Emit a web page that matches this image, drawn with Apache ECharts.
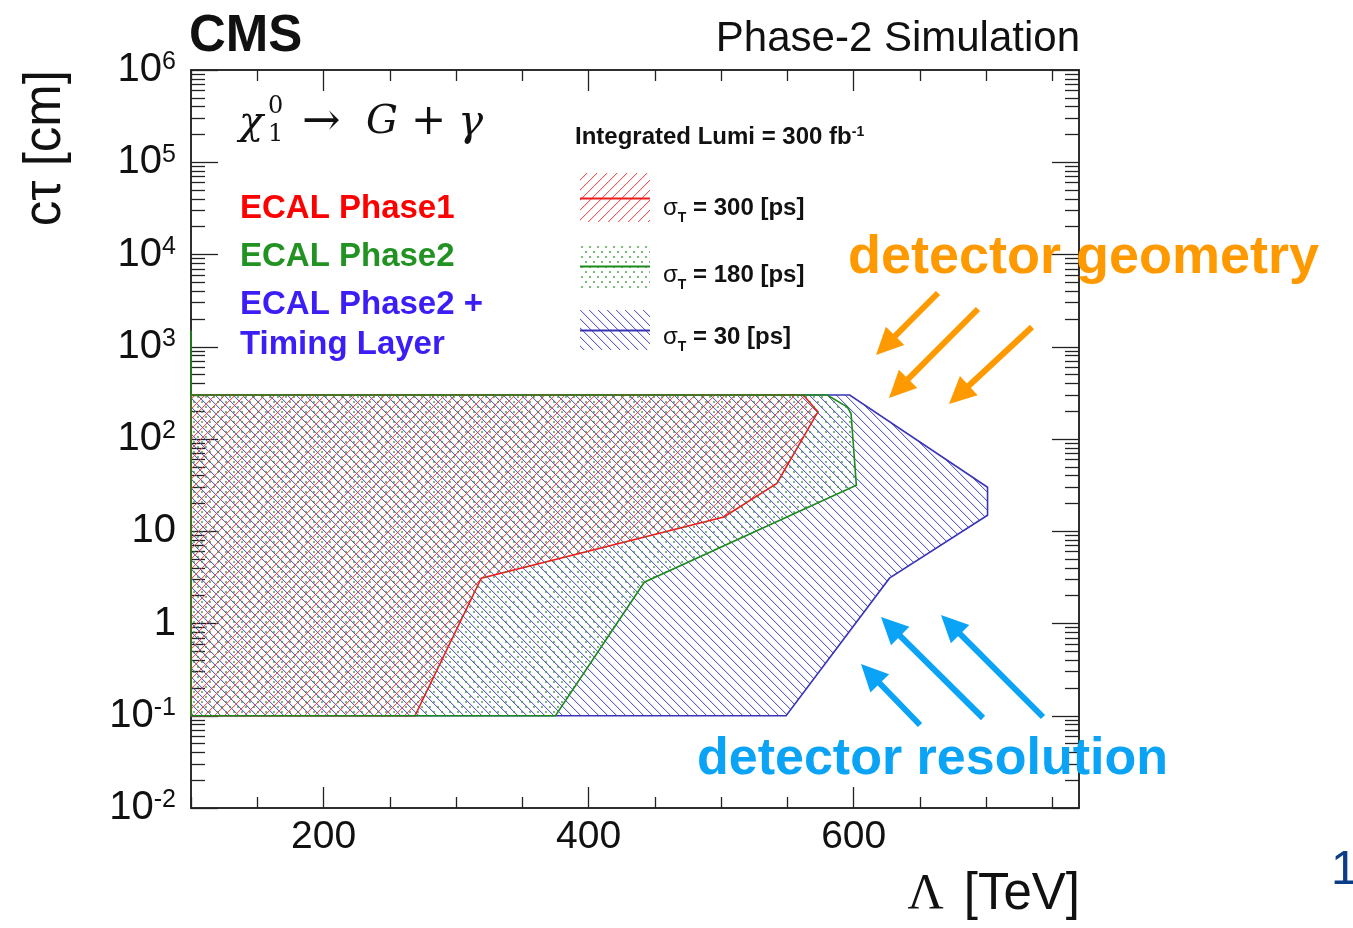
<!DOCTYPE html>
<html>
<head>
<meta charset="utf-8">
<script src="https://cdn.jsdelivr.net/npm/echarts@6/dist/echarts.min.js"></script>
<style>
html,body{margin:0;padding:0;background:#fff;}
#chart{width:1353px;height:928px;}
</style>
</head>
<body>
<div id="chart"></div>
<script>
// ---------------- data ----------------
const xMin = 100, xMax = 770;
const yMin = 0.01, yMax = 1e6;
const xMajorTicks = [200, 400, 600];
const xMinorTicks = [100, 150, 250, 300, 350, 450, 500, 550, 650, 700, 750];
const yMajorTicks = [0.01, 0.1, 1, 10, 100, 1000, 10000, 100000, 1000000];

// ECAL Phase1 (sigma_T = 300 ps)
const phase1Lambda = [100, 269, 319, 502, 542, 573, 562, 100];
const phase1CTau   = [0.1, 0.1, 3.1, 14.3, 33, 197, 300, 300];
// ECAL Phase2 (sigma_T = 180 ps)
const phase2Lambda = [100, 375, 442, 602, 598, 595, 580, 100, 100];
const phase2CTau   = [0.1, 0.1, 2.8, 31.6, 190, 223, 300, 300, 1500];
// ECAL Phase2 + Timing Layer (sigma_T = 30 ps)
const timingLambda = [100, 549, 627, 701, 701, 597, 100];
const timingCTau   = [0.1, 0.1, 3.1, 14.9, 30, 300, 300];

// minor log ticks (2..9 x 10^k)
const yMinorTicks = [];
for (let e = -2; e < 6; e++) {
  for (let m = 2; m <= 9; m++) yMinorTicks.push(+(m * Math.pow(10, e)).toPrecision(6));
}

// ---------------- patterns (crisp pixel hatching) ----------------
function hatch(rgb, size, dir, a1, a2) {
  const c = document.createElement('canvas');
  c.width = c.height = size;
  const g = c.getContext('2d');
  for (let i = 0; i < size; i++) {
    const y = dir === '/' ? size - 1 - i : i;
    g.fillStyle = 'rgba(' + rgb + ',' + a1 + ')';
    g.fillRect(i, y, 1, 1);
    g.fillStyle = 'rgba(' + rgb + ',' + a2 + ')';
    g.fillRect((i + 1) % size, y, 1, 1);
  }
  return { image: c, repeat: 'repeat' };
}
function dots(rgb, w, h) {
  const c = document.createElement('canvas');
  c.width = w; c.height = h;
  const g = c.getContext('2d');
  g.fillStyle = 'rgba(' + rgb + ',0.5)';
  [[1, 1], [1 + w / 2, 1 + h / 2]].forEach(p => g.fillRect(p[0], p[1], 2, 2));
  g.fillStyle = 'rgba(' + rgb + ',0.85)';
  [[1, 1], [1 + w / 2, 1 + h / 2]].forEach(p => g.fillRect(p[0] + 0.5, p[1] + 0.5, 1, 1));
  return { image: c, repeat: 'repeat' };
}
const redFill = hatch('240,60,60', 10, '/', 0.85, 0.18);
const blueFill = hatch('70,70,190', 9, '\\', 0.85, 0.18);
const greenFill = dots('40,145,40', 8, 10);
const redStroke = '#ee1c1c', greenStroke = '#1d8a1d', blueStroke = '#3a34b8';

// ---------------- helpers ----------------
const SANS = '"Liberation Sans", Arial, Helvetica, sans-serif';
const SERIF = '"Liberation Serif", "DejaVu Serif", serif';
const MATH = '"DejaVu Serif", serif';
const axisColor = '#222';

function regionSeries(name, xs, ys, fill, stroke, z) {
  return {
    type: 'custom', name, coordinateSystem: 'cartesian2d',
    xAxisIndex: 0, yAxisIndex: 0, z, silent: true,
    data: xs.map((x, i) => [x, ys[i]]),
    renderItem: function (params, api) {
      if (params.dataIndex !== 0) return null;
      const pts = xs.map((x, i) => api.coord([x, ys[i]]));
      return { type: 'polygon', shape: { points: pts }, style: { fill: fill, stroke: stroke, lineWidth: 1.6 } };
    }
  };
}

function xAx(pos, major, labels) {
  return {
    type: 'value', min: xMin, max: xMax, position: pos,
    axisLine: { show: true, lineStyle: { color: axisColor, width: 1.5 } },
    axisTick: { show: true, inside: true, length: major ? 21 : 11, customValues: major ? xMajorTicks : xMinorTicks, lineStyle: { color: axisColor, width: 1.3 } },
    axisLabel: labels ? { show: true, customValues: xMajorTicks, fontSize: 39, fontFamily: SANS, color: '#111', margin: 10 } : { show: false },
    splitLine: { show: false }
  };
}
function yAx(pos, major, labels) {
  return {
    type: 'log', logBase: 10, min: yMin, max: yMax, position: pos,
    axisLine: { show: true, lineStyle: { color: axisColor, width: 1.5 } },
    axisTick: { show: true, inside: true, length: major ? 27 : 14, customValues: major ? yMajorTicks : yMinorTicks, lineStyle: { color: axisColor, width: 1.3 } },
    axisLabel: labels ? {
      show: true, customValues: yMajorTicks, margin: 15,
      formatter: function (v) {
        const e = Math.round(Math.log10(v));
        if (e === 0) return '{b|1}';
        if (e === 1) return '{b|10}';
        return '{b|10}{s|' + e + '}';
      },
      rich: {
        b: { fontSize: 40, fontFamily: SANS, color: '#111', lineHeight: 40, verticalAlign: 'bottom' },
        s: { fontSize: 25, fontFamily: SANS, color: '#111', lineHeight: 25, padding: [0, 0, 26, 0], verticalAlign: 'top' }
      }
    } : { show: false },
    splitLine: { show: false }
  };
}

function arrow(tail, tip, color) {
  const dx = tip[0] - tail[0], dy = tip[1] - tail[1];
  const len = Math.hypot(dx, dy);
  const ux = dx / len, uy = dy / len, nx = -uy, ny = ux;
  const L = 27, W = 13;
  const bx = tip[0] - ux * L, by = tip[1] - uy * L;
  return [
    { type: 'line', shape: { x1: tail[0], y1: tail[1], x2: bx + ux * 3, y2: by + uy * 3 }, style: { stroke: color, lineWidth: 6 } },
    { type: 'polygon', shape: { points: [tip, [bx + nx * W, by + ny * W], [bx - nx * W, by - ny * W]] }, style: { fill: color } }
  ];
}
function txt(x, y, text, font, fill, align, extra) {
  return Object.assign({ type: 'text', x: x, y: y, z: 10, style: { text: text, font: font, fill: fill, align: align || 'left', verticalAlign: 'middle' } }, extra || {});
}

const orange = '#ff9900', skyBlue = '#0aa3f5';
const graphics = [];
// Title texts
graphics.push(txt(189, 37, 'CMS', 'bold 51px ' + SANS, '#111'));
graphics.push(txt(1080, 39, 'Phase-2 Simulation', '42px ' + SANS, '#111', 'right'));
// Axis titles
graphics.push(txt(46, 70, 'cτ [cm]', '51px ' + SANS, '#111', 'right', { rotation: Math.PI / 2 }));
graphics.push({
  type: 'text', x: 1080, y: 895, z: 10,
  style: { text: '{g|Λ}{a|[TeV]}', align: 'right', verticalAlign: 'middle',
    rich: { g: { font: '50px ' + SERIF, fill: '#111', padding: [0, 20, 0, 0] }, a: { font: '51px ' + SANS, fill: '#111' } } }
});
// process formula
graphics.push(txt(239, 124, 'χ', 'italic 40px ' + MATH, '#111'));
graphics.push(txt(268, 107, '0', '24px ' + MATH, '#111'));
graphics.push(txt(268, 135, '1', '24px ' + MATH, '#111'));
graphics.push(txt(302, 123, '→', '46px ' + MATH, '#111'));
graphics.push(txt(366, 123, 'G', 'italic 40px ' + MATH, '#111'));
graphics.push(txt(411, 123, '+', '42px ' + MATH, '#111'));
graphics.push(txt(458, 124, 'γ', 'italic 42px ' + MATH, '#111'));
// scenario labels
graphics.push(txt(240, 209, 'ECAL Phase1', 'bold 33px ' + SANS, '#ff0000'));
graphics.push(txt(240, 257, 'ECAL Phase2', 'bold 33px ' + SANS, '#229322'));
graphics.push(txt(240, 305, 'ECAL Phase2 +', 'bold 33px ' + SANS, '#3b1df5'));
graphics.push(txt(240, 345, 'Timing Layer', 'bold 33px ' + SANS, '#3b1df5'));
// lumi
graphics.push({
  type: 'text', x: 575, y: 137, z: 10,
  style: { text: '{a|Integrated Lumi = 300 fb}{s|-1}', verticalAlign: 'middle',
    rich: { a: { font: 'bold 24px ' + SANS, fill: '#111', lineHeight: 24, verticalAlign: 'bottom' },
            s: { font: 'bold 14px ' + SANS, fill: '#111', lineHeight: 14, padding: [0, 0, 12, 0], verticalAlign: 'top' } } }
});
// legend entries
const legendRows = [
  { y0: 173, h: 49, fill: redFill, stroke: redStroke, label: '300' },
  { y0: 243, h: 45, fill: greenFill, stroke: greenStroke, label: '180' },
  { y0: 310, h: 40, fill: blueFill, stroke: blueStroke, label: '30' }
];
const legendTextY = [208, 275, 337];
legendRows.forEach((r, i) => {
  graphics.push({ type: 'rect', z: 10, shape: { x: 580, y: r.y0, width: 70, height: r.h }, style: { fill: r.fill } });
  const ly = Math.round(r.y0 + r.h / 2) + 0.5;
  graphics.push({ type: 'line', z: 11, shape: { x1: 580, y1: ly, x2: 650, y2: ly }, style: { stroke: r.stroke, lineWidth: 1.8 } });
  graphics.push({
    type: 'text', x: 663, y: legendTextY[i], z: 10,
    style: { text: '{g|σ}{t|T}{a| = ' + r.label + ' [ps]}', verticalAlign: 'middle',
      rich: { g: { font: '24px ' + SANS, fill: '#111', lineHeight: 24, verticalAlign: 'top' },
              t: { font: 'bold 14px ' + SANS, fill: '#111', lineHeight: 14, padding: [15, 0, 0, 0], verticalAlign: 'top' },
              a: { font: 'bold 24px ' + SANS, fill: '#111', lineHeight: 24, verticalAlign: 'top' } } }
  });
});
// annotations
graphics.push(txt(848, 258, 'detector geometry', 'bold 54px ' + SANS, orange));
graphics.push(txt(697, 760, 'detector resolution', 'bold 52px ' + SANS, skyBlue));
graphics.push(txt(1331, 871, '1', '48px ' + SANS, '#0b3d86'));
[[[938, 293], [876, 355]], [[978, 309], [889, 398]], [[1032, 327], [949, 404]]].forEach(a => graphics.push(...arrow(a[0], a[1], orange)));
[[[920, 725], [861, 664]], [[983, 718], [881, 617]], [[1043, 717], [941, 615]]].forEach(a => graphics.push(...arrow(a[0], a[1], skyBlue)));

const chart = echarts.init(document.getElementById('chart'), null, { renderer: 'canvas' });
chart.setOption({
  animation: false,
  backgroundColor: '#ffffff',
  grid: { left: 191, right: 274, top: 70, bottom: 120, containLabel: false },
  xAxis: [xAx('bottom', true, true), xAx('bottom', false, false), xAx('top', true, false), xAx('top', false, false)],
  yAxis: [yAx('left', true, true), yAx('left', false, false), yAx('right', true, false), yAx('right', false, false)],
  series: [
    regionSeries('σT = 30 ps', timingLambda, timingCTau, blueFill, blueStroke, 2),
    regionSeries('σT = 300 ps', phase1Lambda, phase1CTau, redFill, redStroke, 3),
    regionSeries('σT = 180 ps', phase2Lambda, phase2CTau, greenFill, greenStroke, 4)
  ],
  graphic: graphics
});
</script>
</body>
</html>
